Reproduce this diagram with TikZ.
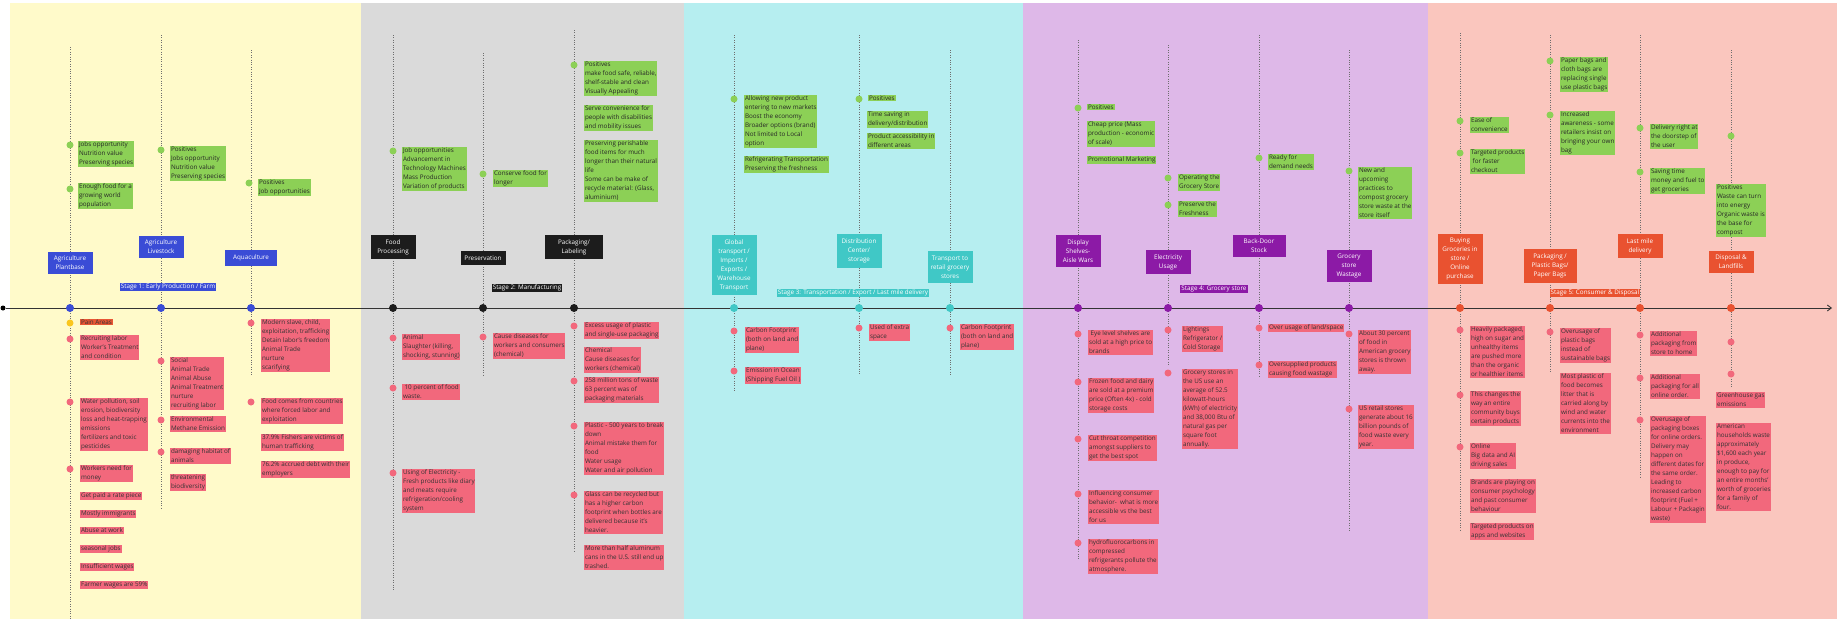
\documentclass[tikz,border=0pt]{standalone}
\usepackage{fontspec}
\setmainfont{Open Sans}
\usetikzlibrary{arrows.meta}

\definecolor{bgyellow}{RGB}{255,250,202}
\definecolor{bggray}{RGB}{218,218,218}
\definecolor{bgcyan}{RGB}{182,238,240}
\definecolor{bgpurple}{RGB}{222,184,232}
\definecolor{bgpink}{RGB}{250,198,190}
\definecolor{farmblue}{RGB}{58,76,214}
\definecolor{makeblack}{RGB}{28,28,28}
\definecolor{shipteal}{RGB}{64,200,198}
\definecolor{storepurple}{RGB}{140,26,166}
\definecolor{useorange}{RGB}{233,82,48}
\definecolor{posgreen}{RGB}{140,208,86}
\definecolor{negred}{RGB}{242,104,124}
\definecolor{painorange}{RGB}{232,86,52}
\definecolor{painyellow}{RGB}{250,198,30}
\definecolor{guidegray}{RGB}{110,110,110}

\begin{document}
\begin{tikzpicture}[x=1pt,y=-1pt,
    every node/.style={font=\fontsize{6.3}{9}\selectfont},
    ebox/.style={text=white,align=center,minimum width=45,inner xsep=1pt,inner ysep=4.4pt},
    posnote/.style={fill=posgreen,text=black!85,align=left,anchor=north west,inner sep=0.8pt},
    negnote/.style={fill=negred,text=black!80,align=left,anchor=north west,inner sep=0.8pt},
    stagelab/.style={text=white,inner xsep=1pt,inner ysep=0.9pt},
    gdot/.style={circle,fill=posgreen,inner sep=0,minimum size=7},
    rdot/.style={circle,fill=negred,inner sep=0,minimum size=7},
    mark dot/.style={circle,inner sep=0,minimum size=8},
    guide/.style={guidegray,line width=0.6pt,dash pattern=on 1pt off 1.4pt}]

    \useasboundingbox (0,0) rectangle (1837,619);
    % stage panels
    \fill[bgyellow] (10,3) rectangle (361,619);
    \fill[bggray] (361,3) rectangle (684,619);
    \fill[bgcyan] (684,3) rectangle (1023,619);
    \fill[bgpurple] (1023,3) rectangle (1428,619);
    \fill[bgpink] (1428,3) rectangle (1837,619);

    % guide lines
    \coordinate (a1top) at (70,47);   \coordinate (a1bot) at (70,619);
    \coordinate (a2top) at (161,35);  \coordinate (a2bot) at (161,510);
    \coordinate (a3top) at (251,50);  \coordinate (a3bot) at (251,375);
    \coordinate (b1top) at (393,35);  \coordinate (b1bot) at (393,590);
    \coordinate (b2top) at (483,53);  \coordinate (b2bot) at (483,375);
    \coordinate (b3top) at (574,30);  \coordinate (b3bot) at (574,553);
    \coordinate (c1top) at (734,35);  \coordinate (c1bot) at (734,392);
    \coordinate (c2top) at (859,35);  \coordinate (c2bot) at (859,375);
    \coordinate (c3top) at (950,50);  \coordinate (c3bot) at (950,375);
    \coordinate (d1top) at (1078,40); \coordinate (d1bot) at (1078,560);
    \coordinate (d2top) at (1168,45); \coordinate (d2bot) at (1168,365);
    \coordinate (d3top) at (1259,35); \coordinate (d3bot) at (1259,378);
    \coordinate (d4top) at (1349,50); \coordinate (d4bot) at (1349,532);
    \coordinate (e1top) at (1460,33); \coordinate (e1bot) at (1460,530);
    \coordinate (e2top) at (1550,35); \coordinate (e2bot) at (1550,373);
    \coordinate (e3top) at (1640,35); \coordinate (e3bot) at (1640,477);
    \coordinate (e4top) at (1731,50); \coordinate (e4bot) at (1731,388);
    \path[guide]
        (a1top) edge (a1bot) (a2top) edge (a2bot) (a3top) edge (a3bot)
        (b1top) edge (b1bot) (b2top) edge (b2bot) (b3top) edge (b3bot)
        (c1top) edge (c1bot) (c2top) edge (c2bot) (c3top) edge (c3bot)
        (d1top) edge (d1bot) (d2top) edge (d2bot) (d3top) edge (d3bot) (d4top) edge (d4bot)
        (e1top) edge (e1bot) (e2top) edge (e2bot) (e3top) edge (e3bot) (e4top) edge (e4bot);

    % timeline
    \node[mark dot,fill=black,minimum size=5] at (3,308) (tstart) {};
    \coordinate (tend) at (1832,308);
    \draw[black!80,line width=0.9pt,-{Straight Barb[length=4pt,width=6pt]}] (tstart) -- (tend);

    \node[mark dot,fill=farmblue] at (70,308) (a1m) {};
    \node[mark dot,fill=farmblue] at (161,308) (a2m) {};
    \node[mark dot,fill=farmblue] at (251,308) (a3m) {};
    \node[mark dot,fill=makeblack] at (393,308) (b1m) {};
    \node[mark dot,fill=makeblack] at (483,308) (b2m) {};
    \node[mark dot,fill=makeblack] at (574,308) (b3m) {};
    \node[mark dot,fill=shipteal] at (734,308) (c1m) {};
    \node[mark dot,fill=shipteal] at (859,308) (c2m) {};
    \node[mark dot,fill=shipteal] at (950,308) (c3m) {};
    \node[mark dot,fill=storepurple] at (1078,308) (d1m) {};
    \node[mark dot,fill=storepurple] at (1168,308) (d2m) {};
    \node[mark dot,fill=storepurple] at (1259,308) (d3m) {};
    \node[mark dot,fill=storepurple] at (1349,308) (d4m) {};
    \node[mark dot,fill=useorange] at (1460,308) (e1m) {};
    \node[mark dot,fill=useorange] at (1550,308) (e2m) {};
    \node[mark dot,fill=useorange] at (1640,308) (e3m) {};
    \node[mark dot,fill=useorange] at (1731,308) (e4m) {};

    % stage labels
    \node[stagelab,fill=farmblue] at (168,287) (stage1) {Stage 1: Early Production / Farm};
    \node[stagelab,fill=makeblack] at (527,288) (stage2) {Stage 2: Manufacturing};
    \node[stagelab,fill=shipteal] at (853,293) (stage3) {Stage 3: Transportation / Export / Last mile delivery};
    \node[stagelab,fill=storepurple] at (1214,289) (stage4) {Stage 4: Grocery store};
    \node[stagelab,fill=useorange] at (1595,293) (stage5) {Stage 5: Consumer \& Disposal};

    % stage 1: early production / farm
    \node[ebox,fill=farmblue] at (70,263) (plantbase) {Agriculture\\Plantbase};
    \node[ebox,fill=farmblue] at (161,247) (livestock) {Agriculture\\Livestock};
    \node[ebox,fill=farmblue,minimum width=52] at (251,258) (aqua) {Aquaculture};

    \node[gdot] at (70,145) (a1g1) {};
    \node[posnote] at (78,141) (a1p1) {Jobs opportunity\\Nutrition value\\Preserving species};
    \node[gdot] at (70,189) (a1g2) {};
    \node[posnote] at (78,183) (a1p2) {Enough food for a\\growing world\\population};
    \node[circle,fill=painyellow,inner sep=0,minimum size=7] at (70,323) (a1y) {};
    \node[negnote,fill=painorange] at (80,319) (pain) {Pain Areas};
    \node[rdot] at (70,339) (a1r1) {};
    \node[negnote] at (80,335) (a1n1) {Recruiting labor\\Worker's Treatment\\and condition};
    \node[rdot] at (70,402) (a1r2) {};
    \node[negnote] at (80,398) (a1n2) {Water pollution, soil\\erosion, biodiversity\\loss and heat-trapping\\emissions\\fertilizers and toxic\\pesticides};
    \node[rdot] at (70,469) (a1r3) {};
    \node[negnote] at (80,465) (a1n3) {Workers need for\\money};
    \node[negnote] at (80,492) (a1n4) {Get paid a rate piece};
    \node[negnote] at (80,510) (a1n5) {Mostly immigrants};
    \node[negnote] at (80,527) (a1n6) {Abuse at work};
    \node[negnote] at (80,545) (a1n7) {seasonal jobs};
    \node[negnote] at (80,563) (a1n8) {Insufficient wages};
    \node[negnote] at (80,581) (a1n9) {Farmer wages are 59\%};

    \node[gdot] at (161,150) (a2g1) {};
    \node[posnote] at (170,146) (a2p1) {Positives\\Jobs opportunity\\Nutrition value\\Preserving species};
    \node[rdot] at (161,361) (a2r1) {};
    \node[negnote] at (170,357) (a2n1) {Social\\Animal Trade\\Animal Abuse\\Animal Treatment\\nurture\\recruiting labor};
    \node[rdot] at (161,420) (a2r2) {};
    \node[negnote] at (170,416) (a2n2) {Environmental\\Methane Emission};
    \node[rdot] at (161,452) (a2r3) {};
    \node[negnote] at (170,448) (a2n3) {damaging habitat of\\animals};
    \node[negnote] at (170,474) (a2n4) {threatening\\biodiversity};

    \node[gdot] at (249,183) (a3g1) {};
    \node[posnote] at (258,179) (a3p1) {Positives\\Job opportunities};
    \node[rdot] at (251,323) (a3r1) {};
    \node[negnote] at (261,319) (a3n1) {Modern slave, child,\\exploitation, trafficking\\Detain labor's freedom\\Animal Trade\\nurture\\scarifying};
    \node[rdot] at (251,402) (a3r2) {};
    \node[negnote] at (261,398) (a3n2) {Food comes from countries\\where forced labor and\\exploitation};
    \node[negnote] at (261,434) (a3n3) {37.9\% Fishers are victims of\\human trafficking};
    \node[negnote] at (261,461) (a3n4) {76.2\% accrued debt with their\\employers};

    % stage 2: manufacturing
    \node[ebox,fill=makeblack] at (393,247) (foodproc) {Food\\Processing};
    \node[ebox,fill=makeblack] at (483,258) (preserv) {Preservation};
    \node[ebox,fill=makeblack,minimum width=58] at (574,247) (packlabel) {Packaging/\\Labeling};

    \node[gdot] at (393,151) (b1g1) {};
    \node[posnote] at (402,147) (b1p1) {Job opportunities\\Advancement in\\Technology Machines\\Mass Production\\Variation of products};
    \node[rdot] at (393,338) (b1r1) {};
    \node[negnote] at (402,334) (b1n1) {Animal\\Slaughter (killing,\\shocking, stunning)};
    \node[rdot] at (393,388) (b1r2) {};
    \node[negnote] at (402,384) (b1n2) {\ 10 percent of food\\waste.};
    \node[rdot] at (393,473) (b1r3) {};
    \node[negnote] at (402,469) (b1n3) {Using of Electricity -\\Fresh products like diary\\and meats require\\refrigeration/cooling\\system};

    \node[gdot] at (483,174) (b2g1) {};
    \node[posnote] at (493,170) (b2p1) {Conserve food for\\longer};
    \node[rdot] at (483,337) (b2r1) {};
    \node[negnote] at (493,333) (b2n1) {Cause diseases for\\workers and consumers\\(chemical)};

    \node[gdot] at (574,65) (b3g1) {};
    \node[posnote] at (584,61) (b3p1) {Positives\\make food safe, reliable,\\shelf-stable and clean\\Visually Appealing};
    \node[posnote] at (584,105) (b3p2) {Serve convenience for\\people with disabilities\\and mobility issues};
    \node[posnote] at (584,140) (b3p3) {Preserving perishable\\food items for much\\longer than their natural\\life\\Some can be make of\\recycle material: (Glass,\\aluminium)};
    \node[rdot] at (574,326) (b3r1) {};
    \node[negnote] at (584,322) (b3n1) {Excess usage of plastic\\and single-use packaging};
    \node[negnote] at (584,347) (b3n2) {Chemical\\Cause diseases for\\workers (chemical)};
    \node[rdot] at (574,381) (b3r2) {};
    \node[negnote] at (584,377) (b3n3) {258 million tons of waste\\63 percent was of\\packaging materials};
    \node[rdot] at (574,426) (b3r3) {};
    \node[negnote] at (584,422) (b3n4) {Plastic - 500 years to break\\down\\Animal mistake them for\\food\\Water usage\\Water and air pollution};
    \node[rdot] at (574,495) (b3r4) {};
    \node[negnote] at (584,491) (b3n5) {Glass can be recycled but\\has a higher carbon\\footprint when bottles are\\delivered because it's\\heavier.};
    \node[negnote] at (584,545) (b3n6) {More than half aluminum\\cans in the U.S. still end up\\trashed.};

    % stage 3: transportation
    \node[ebox,fill=shipteal] at (734,265) (global) {Global\\transport /\\Imports /\\Exports /\\Warehouse\\Transport};
    \node[ebox,fill=shipteal] at (859,251) (distrib) {Distribution\\Center/\\storage};
    \node[ebox,fill=shipteal] at (950,267) (retail) {Transport to\\retail grocery\\stores};

    \node[gdot] at (734,99) (c1g1) {};
    \node[posnote] at (744,95) (c1p1) {Allowing new product\\entering to new markets\\Boost the economy\\Broader options (brand)\\Not limited to Local\\option};
    \node[posnote] at (744,156) (c1p2) {Refrigerating Transportation\\Preserving the freshness};
    \node[rdot] at (734,331) (c1r1) {};
    \node[negnote] at (745,327) (c1n1) {Carbon Footprint\\(both on land and\\plane)};
    \node[rdot] at (734,371) (c1r2) {};
    \node[negnote] at (745,367) (c1n2) {Emission in Ocean\\(Shipping Fuel Oil )};

    \node[gdot] at (859,99) (c2g1) {};
    \node[posnote] at (868,95) (c2p1) {Positives};
    \node[posnote] at (867,111) (c2p2) {Time saving in\\delivery/distribution};
    \node[posnote] at (867,133) (c2p3) {Product accessibility in\\different areas};
    \node[rdot] at (859,328) (c2r1) {};
    \node[negnote] at (869,324) (c2n1) {Used of extra\\space};

    \node[rdot] at (950,328) (c3r1) {};
    \node[negnote] at (960,324) (c3n1) {Carbon Footprint\\(both on land and\\plane)};

    % stage 4: grocery store
    \node[ebox,fill=storepurple] at (1078,251) (display) {Display\\Shelves-\\Aisle Wars};
    \node[ebox,fill=storepurple] at (1168,262) (elec) {Electricity\\Usage};
    \node[ebox,fill=storepurple,minimum width=53] at (1259,246) (backdoor) {Back-Door\\Stock};
    \node[ebox,fill=storepurple] at (1349,266) (wastage) {Grocery\\store\\Wastage};

    \node[gdot] at (1078,108) (d1g1) {};
    \node[posnote] at (1087,104) (d1p1) {Positives};
    \node[posnote] at (1087,121) (d1p2) {Cheap price (Mass\\production - economic\\of scale)};
    \node[posnote] at (1087,156) (d1p3) {Promotional Marketing};
    \node[rdot] at (1078,334) (d1r1) {};
    \node[negnote] at (1088,330) (d1n1) {\ Eye level shelves are\\sold at a high price to\\brands};
    \node[rdot] at (1078,382) (d1r2) {};
    \node[negnote] at (1088,378) (d1n2) {Frozen food and dairy\\are sold at a premium\\price (Often 4x) - cold\\storage costs};
    \node[rdot] at (1078,439) (d1r3) {};
    \node[negnote] at (1088,435) (d1n3) {Cut throat competition\\amongst suppliers to\\get the best spot};
    \node[rdot] at (1078,494) (d1r4) {};
    \node[negnote] at (1088,490) (d1n4) {Influencing consumer\\behavior-\ \ what is more\\accessible vs the best\\for us};
    \node[rdot] at (1078,543) (d1r5) {};
    \node[negnote] at (1088,539) (d1n5) {hydrofluorocarbons in\\compressed\\refrigerants pollute the\\atmosphere.};

    \node[gdot] at (1168,178) (d2g1) {};
    \node[posnote] at (1178,174) (d2p1) {Operating the\\Grocery Store};
    \node[gdot] at (1168,205) (d2g2) {};
    \node[posnote] at (1178,201) (d2p2) {Preserve the\\Freshness};
    \node[rdot] at (1168,330) (d2r1) {};
    \node[negnote] at (1182,326) (d2n1) {Lightings\\Refrigerator /\\Cold Storage};
    \node[rdot] at (1168,373) (d2r2) {};
    \node[negnote] at (1182,369) (d2n2) {Grocery stores in\\the US use an\\average of 52.5\\kilowatt-hours\\(kWh) of electricity\\and 38,000 Btu of\\natural gas per\\square foot\\annually.};

    \node[gdot] at (1259,158) (d3g1) {};
    \node[posnote] at (1268,154) (d3p1) {Ready for\\demand needs};
    \node[rdot] at (1259,328) (d3r1) {};
    \node[negnote] at (1268,324) (d3n1) {Over usage of land/space};
    \node[rdot] at (1259,365) (d3r2) {};
    \node[negnote] at (1268,361) (d3n2) {Oversupplied products\\causing food wastage};

    \node[gdot] at (1349,171) (d4g1) {};
    \node[posnote] at (1358,167) (d4p1) {New and\\upcoming\\practices to\\compost grocery\\store waste at the\\store itself};
    \node[rdot] at (1349,334) (d4r1) {};
    \node[negnote] at (1358,330) (d4n1) {About 30 percent\\of food in\\American grocery\\stores is thrown\\away.};
    \node[rdot] at (1349,409) (d4r2) {};
    \node[negnote] at (1358,405) (d4n2) {US retail stores\\generate about 16\\billion pounds of\\food waste every\\year.};

    % stage 5: consumer & disposal
    \node[ebox,fill=useorange] at (1460,259) (buying) {Buying\\Groceries in\\store /\\Online\\purchase};
    \node[ebox,fill=useorange,minimum width=53] at (1550,266) (bags) {Packaging /\\Plastic Bags/\\Paper Bags};
    \node[ebox,fill=useorange] at (1640,246) (lastmile) {Last mile\\delivery};
    \node[ebox,fill=useorange] at (1731,262) (disposal) {Disposal \&\\Landfills};

    \node[gdot] at (1460,121) (e1g1) {};
    \node[posnote] at (1470,117) (e1p1) {Ease of\\convenience};
    \node[gdot] at (1460,153) (e1g2) {};
    \node[posnote] at (1470,149) (e1p2) {Targeted products\\\ for faster\\checkout};
    \node[rdot] at (1460,330) (e1r1) {};
    \node[negnote] at (1470,326) (e1n1) {Heavily packaged,\\high on sugar and\\unhealthy items\\are pushed more\\than the organic\\or healthier items};
    \node[rdot] at (1460,395) (e1r2) {};
    \node[negnote] at (1470,391) (e1n2) {This changes the\\way an entire\\community buys\\certain products};
    \node[rdot] at (1460,447) (e1r3) {};
    \node[negnote] at (1470,443) (e1n3) {Online\\Big data and AI\\driving sales};
    \node[negnote] at (1470,479) (e1n4) {Brands are playing on\\consumer psychology\\and past consumer\\behaviour};
    \node[negnote] at (1470,523) (e1n5) {Targeted products on\\apps and websites};

    \node[gdot] at (1550,61) (e2g1) {};
    \node[posnote] at (1560,57) (e2p1) {Paper bags and\\cloth bags are\\replacing single\\use plastic bags};
    \node[gdot] at (1550,115) (e2g2) {};
    \node[posnote] at (1560,111) (e2p2) {Increased\\awareness - some\\retailers insist on\\bringing your own\\bag};
    \node[rdot] at (1550,332) (e2r1) {};
    \node[negnote] at (1560,328) (e2n1) {Overusage of\\plastic bags\\instead of\\sustainable bags};
    \node[negnote] at (1560,373) (e2n2) {Most plastic of\\food becomes\\litter that is\\carried along by\\wind and water\\currents into the\\environment};

    \node[gdot] at (1640,128) (e3g1) {};
    \node[posnote] at (1650,124) (e3p1) {Delivery right at\\the doorstep of\\the user};
    \node[gdot] at (1640,172) (e3g2) {};
    \node[posnote] at (1650,168) (e3p2) {Saving time\\money and fuel to\\get groceries};
    \node[rdot] at (1640,335) (e3r1) {};
    \node[negnote] at (1650,331) (e3n1) {Additional\\packaging from\\store to home};
    \node[rdot] at (1640,378) (e3r2) {};
    \node[negnote] at (1650,374) (e3n2) {Additional\\packaging for all\\online order.};
    \node[rdot] at (1640,420) (e3r3) {};
    \node[negnote] at (1650,416) (e3n3) {Overusage of\\packaging boxes\\for online orders.\\Delivery may\\happen on\\different dates for\\the same order.\\Leading to\\increased carbon\\footprint (Fuel +\\Labour + Packagin\\waste)};

    \node[gdot] at (1731,136) (e4g1) {};
    \node[posnote] at (1716,184) (e4p1) {Positives\\Waste can turn\\into energy\\Organic waste is\\the base for\\compost};
    \node[rdot] at (1731,342) (e4r1) {};
    \node[rdot] at (1731,374) (e4r2) {};
    \node[negnote] at (1716,392) (e4n1) {Greenhouse gas\\emissions};
    \node[negnote] at (1716,423) (e4n2) {American\\households waste\\approximately\\\$1,600 each year\\in produce,\\enough to pay for\\an entire months'\\worth of groceries\\for a family of\\four.};
\end{tikzpicture}
\end{document}
